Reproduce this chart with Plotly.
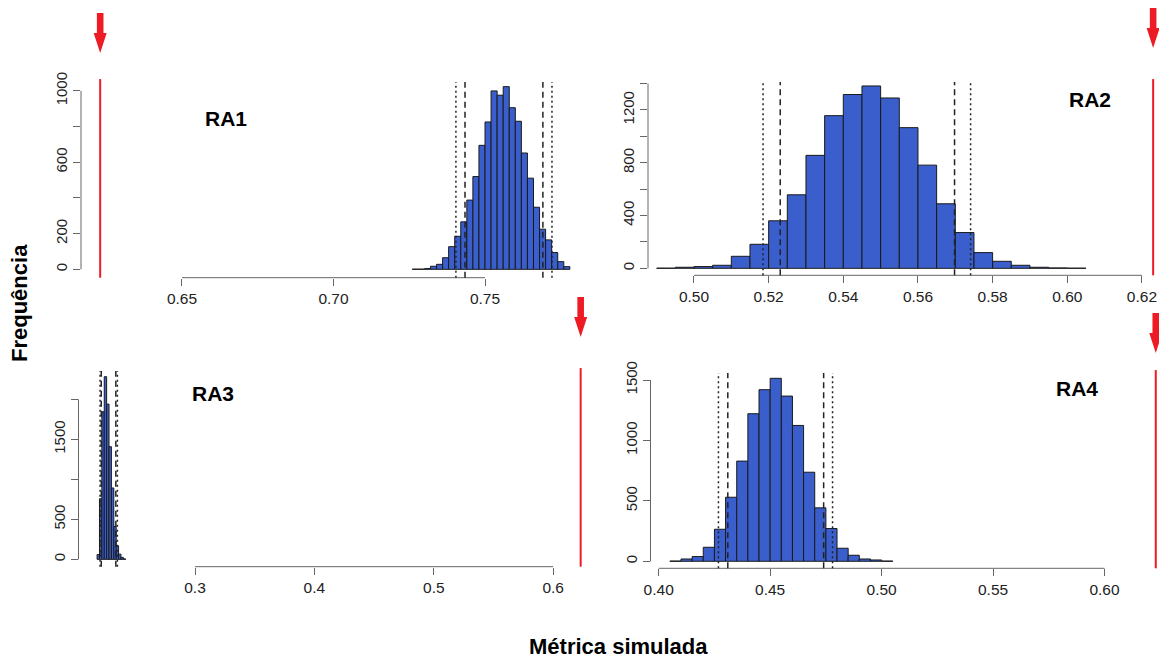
import plotly.graph_objects as go

W, H = 1159, 659
FONT = "Liberation Sans, Arial, sans-serif"

# ---------------- data ----------------
panel_names = ["RA1", "RA2", "RA3", "RA4"]
observed = [0.623, 0.623, 0.623, 0.623]

ra1_bin_start = 0.726
ra1_bin_width = 0.002
ra1_counts = [1, 1, 4, 17, 28, 65, 127, 185, 266, 388, 520, 695, 826, 1000,
              976, 1024, 906, 830, 652, 511, 348, 225, 165, 94, 43, 15]
ra1_dotted = [0.7404, 0.7721]
ra1_dashed = [0.7434, 0.7691]
ra1_xticks = [0.65, 0.70, 0.75]
ra1_xlabels = ["0.65", "0.70", "0.75"]
ra1_yticks = [0, 200, 400, 600, 800, 1000]
ra1_ylabels = ["0", "200", "", "600", "", "1000"]

ra2_bin_start = 0.490
ra2_bin_width = 0.005
ra2_counts = [1, 8, 13, 23, 91, 182, 360, 557, 856, 1157, 1317, 1382, 1291,
              1066, 782, 489, 271, 119, 53, 23, 8, 3, 1]
ra2_dotted = [0.5185, 0.5741]
ra2_dashed = [0.5231, 0.5698]
ra2_xticks = [0.50, 0.52, 0.54, 0.56, 0.58, 0.60, 0.62]
ra2_xlabels = ["0.50", "0.52", "0.54", "0.56", "0.58", "0.60", "0.62"]
ra2_yticks = [0, 200, 400, 600, 800, 1000, 1200, 1400]
ra2_ylabels = ["0", "", "400", "", "800", "", "1200", ""]

ra3_bin_start = 0.218
ra3_bin_width = 0.002
ra3_counts = [60, 758, 1844, 2283, 1940, 1408, 892, 410, 170, 65, 24, 5]
ra3_dotted = [0.2205, 0.2350]
ra3_dashed = [0.2215, 0.2337]
ra3_xticks = [0.3, 0.4, 0.5, 0.6]
ra3_xlabels = ["0.3", "0.4", "0.5", "0.6"]
ra3_yticks = [0, 500, 1000, 1500, 2000]
ra3_ylabels = ["0", "500", "", "1500", ""]

ra4_bin_start = 0.405
ra4_bin_width = 0.005
ra4_counts = [2, 19, 39, 116, 265, 530, 829, 1221, 1420, 1514, 1367, 1124,
              737, 442, 271, 108, 50, 19, 11, 2]
ra4_dotted = [0.4268, 0.4780]
ra4_dashed = [0.4310, 0.4740]
ra4_xticks = [0.40, 0.45, 0.50, 0.55, 0.60]
ra4_xlabels = ["0.40", "0.45", "0.50", "0.55", "0.60"]
ra4_yticks = [0, 500, 1000, 1500]
ra4_ylabels = ["0", "500", "1000", "1500"]

# ---------------- layout (pixel boxes / ranges) ----------------
boxes = [  # left, right, top, bottom in px
    (81, 595, 82, 277.7),
    (648, 1159, 82, 275.3),
    (78.5, 600, 371, 566.7),
    (650.5, 1159, 373, 568.3),
]
xranges = [[0.61667, 0.7863], [0.48768, 0.62457], [0.20243, 0.6392], [0.39632, 0.62445]]
yranges = [[-47, 1050], [-53, 1412], [-92, 2354], [-58, 1558]]
arrow_offsets = [29, 34, 34, 20]
label_pos = [(0.282, 0.816), (0.865, 0.907), (0.258, 0.886), (0.839, 0.922)]

panels = [
    (ra1_bin_start, ra1_bin_width, ra1_counts, ra1_dotted, ra1_dashed, ra1_xticks, ra1_xlabels, ra1_yticks, ra1_ylabels),
    (ra2_bin_start, ra2_bin_width, ra2_counts, ra2_dotted, ra2_dashed, ra2_xticks, ra2_xlabels, ra2_yticks, ra2_ylabels),
    (ra3_bin_start, ra3_bin_width, ra3_counts, ra3_dotted, ra3_dashed, ra3_xticks, ra3_xlabels, ra3_yticks, ra3_ylabels),
    (ra4_bin_start, ra4_bin_width, ra4_counts, ra4_dotted, ra4_dashed, ra4_xticks, ra4_xlabels, ra4_yticks, ra4_ylabels),
]

BAR = "#3A5FCD"
RED = "#ED1C24"
AXC = "#666666"

fig = go.Figure()
shapes = []
annotations = []
layout_axes = {}

for i, (b0, bw, counts, dotted, dashed, xt, xl, yt, yl) in enumerate(panels):
    n = "" if i == 0 else str(i + 1)
    xa, ya = "x" + n, "y" + n
    left, right, top, bottom = boxes[i]
    centers = [b0 + bw * (k + 0.5) for k in range(len(counts))]
    fig.add_trace(go.Bar(
        x=centers, y=counts, width=bw, xaxis=xa, yaxis=ya,
        marker=dict(color=BAR, line=dict(color="#1a1a1a", width=1)),
        showlegend=False, hoverinfo="skip",
    ))
    layout_axes["xaxis" + n] = dict(
        domain=[left / W, right / W], range=xranges[i], anchor=ya,
        tickvals=xt, ticktext=xl, ticks="outside", ticklen=7, tickcolor=AXC,
        showgrid=False, zeroline=False, showline=False, automargin=False,
        tickfont=dict(family=FONT, size=15.5, color="#222"),
    )
    layout_axes["yaxis" + n] = dict(
        domain=[1 - bottom / H, 1 - top / H], range=yranges[i], anchor=xa,
        tickvals=yt, ticktext=yl, ticks="outside", ticklen=7, tickcolor=AXC,
        tickangle=-90, showgrid=False, zeroline=False, showline=False, automargin=False,
        tickfont=dict(family=FONT, size=15, color="#222"),
    )
    # R-style axis lines (first to last tick)
    shapes.append(dict(type="line", xref=xa, yref=ya + " domain", x0=xt[0], x1=xt[-1],
                       y0=0, y1=0, line=dict(color=AXC, width=1)))
    shapes.append(dict(type="line", xref=xa + " domain", yref=ya, x0=0, x1=0,
                       y0=yt[0], y1=yt[-1], line=dict(color=AXC, width=1)))
    # interval lines
    for v in dotted:
        shapes.append(dict(type="line", xref=xa, yref=ya + " domain", x0=v, x1=v, y0=0, y1=1,
                           line=dict(color="#222", width=1.5, dash="2px,3px")))
    for v in dashed:
        shapes.append(dict(type="line", xref=xa, yref=ya + " domain", x0=v, x1=v, y0=0, y1=1,
                           line=dict(color="#222", width=1.5, dash="6px,4px")))
    # observed value line and arrow
    obs = observed[i]
    shapes.append(dict(type="line", xref=xa, yref=ya + " domain", x0=obs, x1=obs, y0=0, y1=1.015,
                       line=dict(color=RED, width=2)))
    off = arrow_offsets[i]
    path = (f"M -3.3,{off + 40} L 3.3,{off + 40} L 3.3,{off + 20} L 6.5,{off + 20} "
            f"L 0,{off} L -6.5,{off + 20} L -3.3,{off + 20} Z")
    shapes.append(dict(type="path", xref=xa, yref=ya + " domain", xsizemode="pixel",
                       ysizemode="pixel", xanchor=obs, yanchor=1, path=path,
                       fillcolor=RED, line=dict(width=0)))
    lx, ly = label_pos[i]
    annotations.append(dict(text="<b>" + panel_names[i] + "</b>", xref=xa + " domain",
                            yref=ya + " domain", x=lx, y=ly, showarrow=False,
                            xanchor="center", yanchor="middle",
                            font=dict(family=FONT, size=21, color="#000")))

annotations.append(dict(text="<b>Frequência</b>", xref="paper", yref="paper",
                        x=20 / W, y=1 - 303 / H, textangle=-90, showarrow=False,
                        xanchor="center", yanchor="middle",
                        font=dict(family=FONT, size=22, color="#000")))
annotations.append(dict(text="<b>Métrica simulada</b>", xref="paper", yref="paper",
                        x=618 / W, y=1 - 646 / H, showarrow=False,
                        xanchor="center", yanchor="middle",
                        font=dict(family=FONT, size=22, color="#000")))

fig.update_layout(
    width=W, height=H, margin=dict(l=0, r=0, t=0, b=0, autoexpand=False),
    paper_bgcolor="white", plot_bgcolor="white",
    shapes=shapes, annotations=annotations, showlegend=False,
    **layout_axes,
)

fig.write_html("out.html", config={"displayModeBar": False},
               post_script="document.body.style.margin='0';document.body.style.overflow='hidden';")
